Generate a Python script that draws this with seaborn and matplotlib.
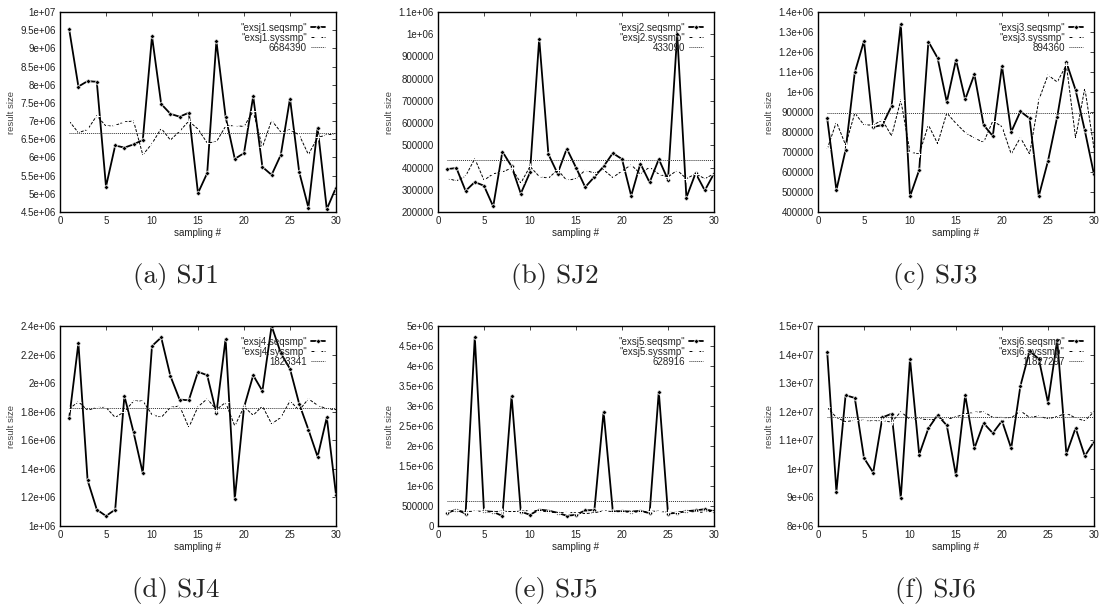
import matplotlib
matplotlib.use("Agg")
import matplotlib.pyplot as plt
import seaborn as sns
import numpy as np

sns.set_style("white")
plt.rcParams['font.family'] = ['Liberation Sans', 'DejaVu Sans']

# ------------------- Data -------------------

samples = list(range(1, 31))

sj1_seq = [9.52e6, 7.95e6, 8.10e6, 8.08e6, 5.20e6, 6.33e6, 6.27e6, 6.36e6, 6.48e6, 9.33e6,
           7.47e6, 7.20e6, 7.12e6, 7.23e6, 5.02e6, 5.57e6, 9.20e6, 7.12e6, 5.96e6, 6.12e6,
           7.68e6, 5.74e6, 5.52e6, 6.07e6, 7.62e6, 5.60e6, 4.62e6, 6.82e6, 4.58e6, 5.17e6]
sj1_sys = [7.00e6, 6.68e6, 6.77e6, 7.15e6, 6.86e6, 6.88e6, 6.98e6, 7.00e6, 6.07e6, 6.38e6,
           6.80e6, 6.48e6, 6.72e6, 7.00e6, 6.78e6, 6.40e6, 6.43e6, 6.86e6, 6.88e6, 6.85e6,
           7.27e6, 6.28e6, 7.02e6, 6.70e6, 6.76e6, 6.62e6, 6.08e6, 6.55e6, 6.62e6, 6.65e6]

sj2_seq = [393000, 398000, 295000, 335000, 318000, 225000, 472000, 405000, 283000, 378000,
           980000, 460000, 373000, 485000, 400000, 312000, 358000, 405000, 465000, 438000,
           273000, 418000, 333000, 438000, 345000, 1000000, 265000, 375000, 297000, 373000]
sj2_sys = [352000, 340000, 362000, 440000, 343000, 372000, 380000, 398000, 330000, 405000,
           360000, 352000, 390000, 342000, 350000, 388000, 375000, 390000, 355000, 385000,
           412000, 372000, 402000, 370000, 358000, 388000, 350000, 372000, 350000, 372000]

sj3_seq = [868000, 510000, 710000, 1098000, 1255000, 825000, 835000, 930000, 1340000, 478000,
           610000, 1252000, 1170000, 950000, 1160000, 963000, 1088000, 835000, 780000, 1130000,
           800000, 903000, 868000, 480000, 655000, 875000, 1148000, 1010000, 808000, 588000]
sj3_sys = [715000, 850000, 735000, 895000, 835000, 835000, 860000, 780000, 960000, 700000,
           690000, 835000, 742000, 895000, 843000, 797000, 770000, 748000, 855000, 827000,
           690000, 772000, 690000, 960000, 1085000, 1050000, 1135000, 770000, 1020000, 718000]

sj4_seq = [1.755e6, 2.28e6, 1.32e6, 1.115e6, 1.07e6, 1.115e6, 1.91e6, 1.655e6, 1.37e6, 2.26e6,
           2.32e6, 2.05e6, 1.885e6, 1.88e6, 2.08e6, 2.055e6, 1.79e6, 2.31e6, 1.19e6, 1.83e6,
           2.055e6, 1.945e6, 2.40e6, 2.21e6, 2.10e6, 1.855e6, 1.675e6, 1.485e6, 1.76e6, 1.22e6]
sj4_sys = [1.82e6, 1.87e6, 1.81e6, 1.83e6, 1.83e6, 1.76e6, 1.80e6, 1.875e6, 1.875e6, 1.78e6,
           1.76e6, 1.83e6, 1.84e6, 1.69e6, 1.835e6, 1.89e6, 1.815e6, 1.865e6, 1.70e6, 1.835e6,
           1.775e6, 1.84e6, 1.715e6, 1.76e6, 1.875e6, 1.81e6, 1.89e6, 1.845e6, 1.82e6, 1.815e6]

sj5_seq = [330000, 410000, 310000, 4.73e6, 370000, 355000, 250000, 3.25e6, 360000, 280000,
           410000, 385000, 330000, 255000, 280000, 390000, 400000, 2.86e6, 370000, 370000,
           360000, 380000, 320000, 3.36e6, 310000, 330000, 370000, 390000, 420000, 370000]
sj5_sys = [370000, 390000, 360000, 370000, 370000, 360000, 370000, 360000, 370000, 390000,
           380000, 350000, 330000, 340000, 330000, 310000, 330000, 380000, 360000, 360000,
           350000, 350000, 370000, 370000, 340000, 340000, 370000, 350000, 340000, 380000]

sj6_seq = [1.41e7, 9.2e6, 1.258e7, 1.248e7, 1.038e7, 9.87e6, 1.18e7, 1.193e7, 8.98e6, 1.385e7,
           1.05e7, 1.142e7, 1.188e7, 1.152e7, 9.77e6, 1.258e7, 1.072e7, 1.16e7, 1.125e7, 1.168e7,
           1.072e7, 1.29e7, 1.412e7, 1.385e7, 1.232e7, 1.45e7, 1.052e7, 1.143e7, 1.045e7, 1.095e7]
sj6_sys = [1.215e7, 1.18e7, 1.165e7, 1.17e7, 1.17e7, 1.167e7, 1.17e7, 1.163e7, 1.20e7, 1.173e7,
           1.175e7, 1.172e7, 1.173e7, 1.173e7, 1.182e7, 1.193e7, 1.198e7, 1.20e7, 1.18e7, 1.18e7,
           1.178e7, 1.203e7, 1.18e7, 1.185e7, 1.175e7, 1.183e7, 1.195e7, 1.178e7, 1.168e7, 1.20e7]

means = [6684390, 433090, 894360, 1823341, 628916, 11827297]
names = ["exsj1", "exsj2", "exsj3", "exsj4", "exsj5", "exsj6"]
captions = ["(a) SJ1", "(b) SJ2", "(c) SJ3", "(d) SJ4", "(e) SJ5", "(f) SJ6"]

y_limits = [(4.5e6, 1e7), (200000, 1.1e6), (400000, 1.4e6),
            (1e6, 2.4e6), (0, 5e6), (8e6, 1.5e7)]
y_steps = [0.5e6, 100000, 100000, 0.2e6, 0.5e6, 1e6]

seq_all = [sj1_seq, sj2_seq, sj3_seq, sj4_seq, sj5_seq, sj6_seq]
sys_all = [sj1_sys, sj2_sys, sj3_sys, sj4_sys, sj5_sys, sj6_sys]


# ------------------- Helpers -------------------

def fmt_tick(v):
    """gnuplot-ish tick labels: plain ints below 1e6, else 4.5e+06 style."""
    if abs(v) < 1e6:
        return f"{int(round(v))}"
    s = f"{v:.1e}"
    mant, exp = s.split("e")
    mant = mant.rstrip("0").rstrip(".")
    return f"{mant}e+{int(exp):02d}"


def draw_panel(ax, i):
    lo, hi = y_limits[i]
    sns.lineplot(x=samples, y=seq_all[i], ax=ax, color="black", lw=1.3,
                 marker="D", markersize=2.6, markeredgewidth=0.5,
                 label=f'"{names[i]}.seqsmp"')
    sns.lineplot(x=samples, y=sys_all[i], ax=ax, color="black", lw=0.7,
                 linestyle=(0, (3, 1.5)), marker="+", markersize=4, markeredgewidth=0.7,
                 label=f'"{names[i]}.syssmp"')
    ax.hlines(means[i], samples[0], samples[-1], colors="#333333", lw=0.7,
              linestyles=(0, (1, 1)), label=str(means[i]))

    ax.set_xlim(0, 30)
    ax.set_ylim(lo, hi)
    ax.set_xticks(range(0, 31, 5))
    yt = np.arange(lo, hi + y_steps[i] / 2, y_steps[i])
    ax.set_yticks(yt)
    ax.set_yticklabels([fmt_tick(v) for v in yt])

    ax.tick_params(direction="in", top=True, right=True, length=3, width=0.6,
                   labelsize=7, labelcolor="#222222", pad=3)
    for sp in ax.spines.values():
        sp.set_visible(True)
        sp.set_color("black")
        sp.set_linewidth(1.0)

    ax.set_xlabel("sampling #", fontsize=7, color="#222222", labelpad=1)
    ax.set_ylabel("result size", fontsize=6.8, color="#444444", labelpad=3)

    ax.legend(loc="upper right", frameon=False, markerfirst=False, fontsize=7,
              handlelength=1.5, handletextpad=0.4, labelspacing=0.0,
              borderaxespad=0.9, borderpad=0.2)


# ------------------- Main Execution -------------------

fig = plt.figure(figsize=(11.03, 6.09), dpi=100)

lefts = [60 / 1103, 438 / 1103, 818 / 1103]
width = 276 / 1103
rows = [(1 - 212 / 609, 200 / 609), (1 - 526 / 609, 200 / 609)]
cap_x = [176 / 1103, 555 / 1103, 935 / 1103]
cap_y = [1 - 276 / 609, 1 - 591 / 609]

for i in range(6):
    r, c = divmod(i, 3)
    bottom, height = rows[r]
    ax = fig.add_axes([lefts[c], bottom, width, height])
    draw_panel(ax, i)
    fig.text(cap_x[c], cap_y[r], captions[i], ha="center", va="center",
             fontsize=19.5, family=["cmr10", "DejaVu Serif"])

plt.savefig("out.png", dpi=100)
plt.close()
